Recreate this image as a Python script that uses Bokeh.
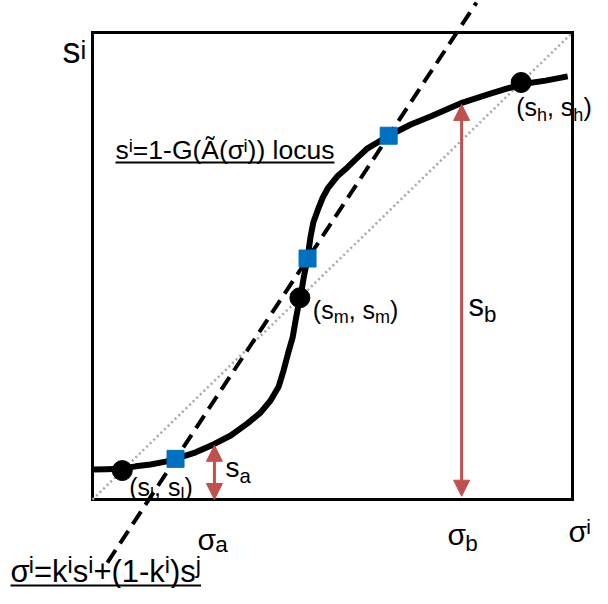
from bokeh.plotting import figure
from bokeh.models import Range1d, Arrow, NormalHead, ColumnDataSource
from bokeh.core.properties import value
from bokeh.embed import file_html
from bokeh.resources import INLINE

# ---------------- data (unit box: 0..1 on both axes) ----------------
CURVE_X = [0.000, 0.029, 0.060, 0.090, 0.121, 0.152, 0.173, 0.215, 0.252, 0.288,
           0.323, 0.350, 0.371, 0.388, 0.398, 0.408, 0.417, 0.423, 0.427, 0.433,
           0.440, 0.448, 0.454, 0.460, 0.469, 0.479, 0.490, 0.510, 0.531, 0.552,
           0.573, 0.617, 0.663, 0.704, 0.771, 0.829, 0.893, 0.944, 0.990]
CURVE_Y = [0.064, 0.065, 0.066, 0.071, 0.075, 0.081, 0.087, 0.101, 0.118, 0.137,
           0.163, 0.186, 0.212, 0.242, 0.276, 0.315, 0.347, 0.383, 0.405, 0.432,
           0.475, 0.516, 0.561, 0.593, 0.619, 0.645, 0.666, 0.692, 0.711, 0.732,
           0.752, 0.779, 0.803, 0.820, 0.850, 0.869, 0.889, 0.897, 0.906]

# fixed points on the 45-degree line: s_l, s_m, s_h
FIXED = [0.062, 0.432, 0.893]

# intersections of the locus with the sigma line
CROSS_X = [0.173, 0.448, 0.617]
CROSS_Y = [0.087, 0.516, 0.779]

# sigma^i = k s^i + (1-k) s^j line (end points)
SIGLINE_X = [0.031, 0.800]
SIGLINE_Y = [-0.135, 1.064]

# diagonal
DIAG_X = [0.0, 1.0]
DIAG_Y = [0.0, 1.0]

# arrows
SIGMA_A, S_A = 0.254, 0.116
SIGMA_B, S_B = 0.769, 0.846

FONT = "Liberation Sans"
RED = "#C0504D"
BLUE = "#0070C0"

# geometry (box 0..1 spans 480 x 467 px)
PXX, PXY = 480.0, 467.0
W, H = 592, 588
BASE_FIX = -0.36   # em correction so that anchors sit on the alphabetic baseline


def X(px):
    return (px - 92) / PXX


def Y(py):
    return (499 - py) / PXY


p = figure(width=W, height=H, output_backend="svg", toolbar_location=None,
           x_range=Range1d(X(0), X(W)), y_range=Range1d(Y(H), Y(0)),
           min_border=0, outline_line_color=None, background_fill_color="white")
p.axis.visible = False
p.grid.visible = False

# box
p.quad(left=[0], right=[1], bottom=[0], top=[1], fill_color=None,
       line_color="black", line_width=3, line_join="miter")

# dotted diagonal
p.line(DIAG_X, DIAG_Y, line_color="#A6A6A6", line_width=2.5, line_dash="2 3")

# dashed sigma line
p.line(SIGLINE_X, SIGLINE_Y, line_color="black", line_width=4, line_dash="15 8")

# locus
p.line(CURVE_X, CURVE_Y, line_color="black", line_width=6, line_join="round")

# points
p.scatter(FIXED, FIXED, size=20, marker="circle", fill_color="black", line_color="black")
p.scatter(CROSS_X, CROSS_Y, size=17, marker="square", fill_color=BLUE, line_color=BLUE)

# arrows
arrows = ColumnDataSource(dict(x0=[SIGMA_A, SIGMA_B], y0=[0.0, 0.007],
                               x1=[SIGMA_A, SIGMA_B], y1=[S_A, S_B]))
p.add_layout(Arrow(source=arrows, x_start="x0", y_start="y0", x_end="x1", y_end="y1",
                   line_color=RED, line_width=3,
                   start=NormalHead(size=16, fill_color=RED, line_color=RED),
                   end=NormalHead(size=16, fill_color=RED, line_color=RED)))

# ---------------- rich text helper ----------------
WID = {"(": 0.333, ")": 0.333, "s": 0.5, ",": 0.278, " ": 0.278, "l": 0.222,
       "m": 0.833, "h": 0.556, "a": 0.556, "b": 0.556, "σ": 0.59, "i": 0.222,
       "=": 0.584, "1": 0.556, "-": 0.333, "G": 0.778, "Ã": 0.667, "k": 0.5,
       "+": 0.584, "j": 0.222, "o": 0.556, "c": 0.5, "u": 0.556}


def tw(s, size):
    return sum(WID.get(c, 0.55) for c in s) * size


def rich(x, y, pieces, size, dx=0.0, dy=0.0, color="black",
         sub=(0.72, 0.2), sup=(0.7, -0.28)):
    cur = dx
    for txt, kind in pieces:
        if kind == "n":
            fs, oy = size, 0.0
        elif kind == "sub":
            fs, oy = size * sub[0], size * sub[1]
        else:
            fs, oy = size * sup[0], size * sup[1]
        p.text(x=[x], y=[y], text=[txt], x_offset=cur,
               y_offset=dy + oy + BASE_FIX * fs,
               text_font=value(FONT), text_font_size=value(f"{fs:.1f}px"),
               text_color=color, text_align="left", text_baseline="alphabetic")
        cur += tw(txt, fs)
    return cur - dx


def underline(x, y, width_px, dy):
    p.line([x, x + width_px / PXX], [y - dy / PXY, y - dy / PXY],
           line_color="black", line_width=2)


# axis labels
rich(X(62), Y(63), [("s", "n"), ("i", "sup")], 36, sup=(0.72, -0.12))
rich(X(568), Y(542), [("σ", "n"), ("i", "sup")], 30)
rich(X(197), Y(550), [("σ", "n"), ("a", "sub")], 30, sub=(0.75, 0.08))
rich(X(447), Y(545), [("σ", "n"), ("b", "sub")], 30, sub=(0.75, 0.2))

# locus label
lw = rich(X(115), Y(159), [("s", "n"), ("i", "sup"), ("=1-G(Ã(σ", "n"), ("i", "sup"),
                           (")) locus", "n")], 26.5)
underline(X(115), Y(159), lw, 3)

# sigma line label
fw = rich(X(10), Y(582), [("σ", "n"), ("i", "sup"), ("=k", "n"), ("i", "sup"), ("s", "n"),
                          ("i", "sup"), ("+(1-k", "n"), ("i", "sup"), (")s", "n"), ("j", "sup")],
          31, sup=(0.75, -0.28))
underline(X(10), Y(582), fw, 3)

# point labels
rich(FIXED[0], FIXED[0], [("(s", "n"), ("l", "sub"), (", s", "n"), ("l", "sub"), (")", "n")],
     25, dx=7, dy=25)
rich(FIXED[1], FIXED[1], [("(s", "n"), ("m", "sub"), (", s", "n"), ("m", "sub"), (")", "n")],
     25, dx=13, dy=21)
rich(FIXED[2], FIXED[2], [("(s", "n"), ("h", "sub"), (", s", "n"), ("h", "sub"), (")", "n")],
     25, dx=-5, dy=34)

# arrow labels
rich(SIGMA_A, 0.0, [("s", "n"), ("a", "sub")], 28, dx=11, dy=-22)
rich(SIGMA_B, 0.0, [("s", "n"), ("b", "sub")], 31, dx=7, dy=-183)

open("out.html", "w").write(file_html(p, INLINE))
